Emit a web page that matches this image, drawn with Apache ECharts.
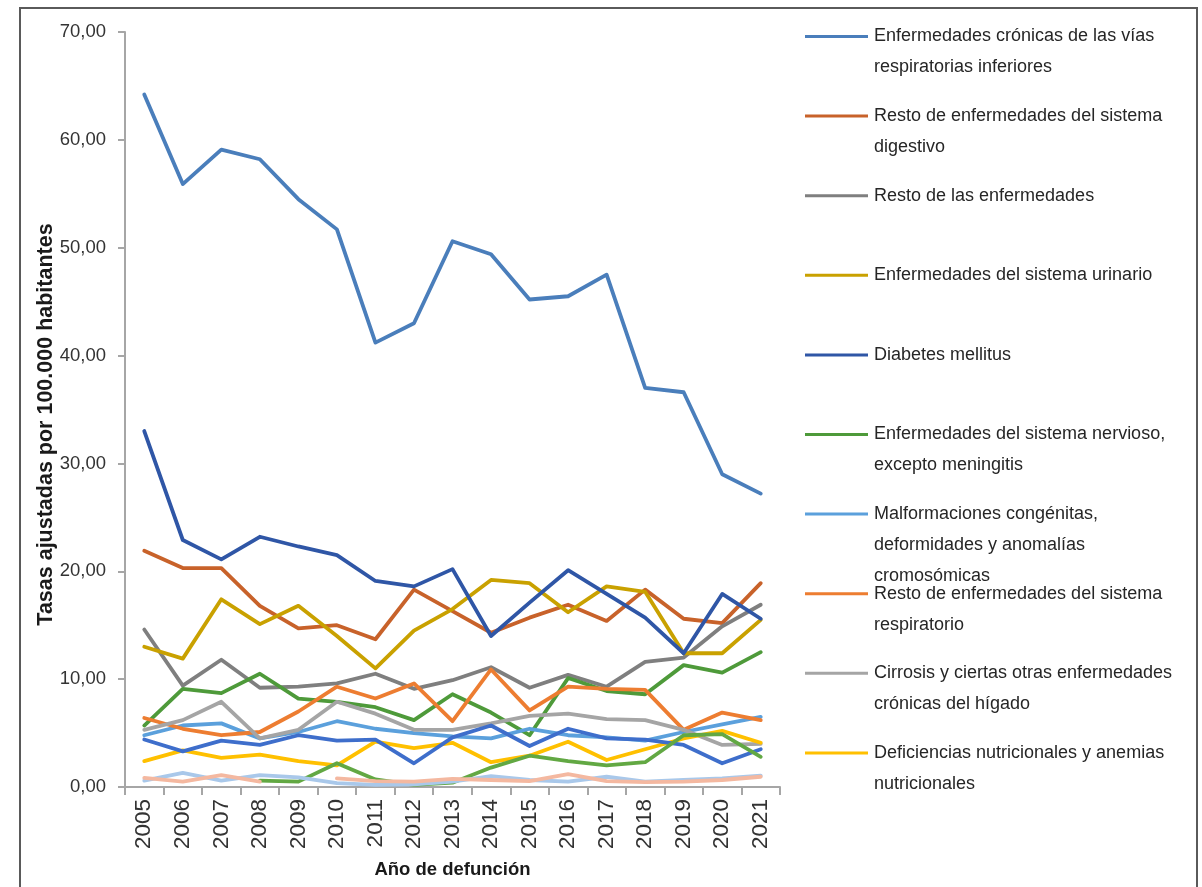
<!DOCTYPE html>
<html>
<head>
<meta charset="utf-8">
<script src="https://cdn.jsdelivr.net/npm/echarts@6/dist/echarts.min.js"></script>
<style>
html,body{margin:0;padding:0;background:#fff;}
#chart{width:1202px;height:887px;}
</style>
</head>
<body>
<div id="chart"></div>
<script>
// ---------- DATA ----------
const years = ['2005','2006','2007','2008','2009','2010','2011','2012','2013','2014','2015','2016','2017','2018','2019','2020','2021'];
const yTicks = [0, 10, 20, 30, 40, 50, 60, 70];

const seriesNames = [
  'Enfermedades crónicas de las vías\nrespiratorias inferiores',
  'Resto de enfermedades del sistema\ndigestivo',
  'Resto de las enfermedades',
  'Enfermedades del sistema urinario',
  'Diabetes mellitus',
  'Enfermedades del sistema nervioso,\nexcepto meningitis',
  'Malformaciones congénitas,\ndeformidades y anomalías\ncromosómicas',
  'Resto de enfermedades del sistema\nrespiratorio',
  'Cirrosis y ciertas otras enfermedades\ncrónicas del hígado',
  'Deficiencias nutricionales y anemias\nnutricionales',
  'Serie 11',
  'Serie 12',
  'Serie 13',
  'Serie 14'
];

const cronicasRespiratorias = [64.2, 55.9, 59.1, 58.2, 54.5, 51.7, 41.2, 43.0, 50.6, 49.4, 45.2, 45.5, 47.5, 37.0, 36.6, 29.0, 27.2];
const digestivo            = [21.9, 20.3, 20.3, 16.8, 14.7, 15.0, 13.7, 18.3, 16.3, 14.3, 15.7, 16.9, 15.4, 18.3, 15.6, 15.2, 18.9];
const restoEnfermedades    = [14.6, 9.4, 11.8, 9.2, 9.3, 9.6, 10.5, 9.1, 9.9, 11.1, 9.2, 10.4, 9.3, 11.6, 12.0, 14.9, 16.9];
const urinario             = [13.0, 11.9, 17.4, 15.1, 16.8, 14.0, 11.0, 14.5, 16.5, 19.2, 18.9, 16.2, 18.6, 18.1, 12.4, 12.4, 15.5];
const diabetes             = [33.0, 22.9, 21.1, 23.2, 22.3, 21.5, 19.1, 18.6, 20.2, 14.0, 17.1, 20.1, 17.9, 15.7, 12.4, 17.9, 15.6];
const nervioso             = [5.7, 9.1, 8.7, 10.5, 8.2, 7.9, 7.4, 6.2, 8.6, 6.9, 4.8, 10.1, 8.9, 8.6, 11.3, 10.6, 12.5];
const malformaciones       = [4.8, 5.7, 5.9, 4.5, 5.1, 6.1, 5.4, 5.0, 4.7, 4.5, 5.4, 4.8, 4.6, 4.3, 5.1, 5.8, 6.5];
const restoRespiratorio    = [6.4, 5.4, 4.8, 5.1, 7.0, 9.3, 8.2, 9.6, 6.1, 10.9, 7.1, 9.3, 9.1, 9.0, 5.3, 6.9, 6.2];
const cirrosis             = [5.3, 6.2, 7.9, 4.5, 5.3, 7.9, 6.8, 5.3, 5.3, 5.9, 6.6, 6.8, 6.3, 6.2, 5.3, 3.9, 4.0];
const deficiencias         = [2.4, 3.4, 2.7, 3.0, 2.4, 2.0, 4.2, 3.6, 4.1, 2.3, 2.9, 4.2, 2.5, 3.5, 4.5, 5.2, 4.1];
const serie11              = [4.4, 3.3, 4.3, 3.9, 4.8, 4.3, 4.4, 2.2, 4.6, 5.7, 3.8, 5.4, 4.5, 4.4, 3.9, 2.2, 3.5];
const serie12              = [null, null, null, 0.6, 0.5, 2.2, 0.7, 0.2, 0.4, 1.8, 2.9, 2.4, 2.0, 2.3, 4.8, 4.9, 2.8];
const serie13              = [0.6, 1.3, 0.6, 1.1, 0.9, 0.35, 0.2, 0.25, 0.5, 1.0, 0.65, 0.5, 0.95, 0.5, 0.65, 0.8, 1.05];
const serie14              = [0.85, 0.5, 1.1, 0.5, null, 0.8, 0.55, 0.5, 0.75, 0.65, 0.55, 1.2, 0.55, 0.45, 0.5, 0.65, 0.95];

const seriesValues = [cronicasRespiratorias, digestivo, restoEnfermedades, urinario, diabetes, nervioso,
  malformaciones, restoRespiratorio, cirrosis, deficiencias, serie11, serie12, serie13, serie14];

// ---------- STYLE ----------
const colors = ['#4A7EBB', '#C8622A', '#7F7F7F', '#C9A100', '#2F56A6', '#4E9A3A',
  '#5BA0DC', '#ED7D31', '#A5A5A5', '#FFC000', '#3E6ECB', '#62A843', '#A9C8EA', '#F4B8A0'];
const font = "'Liberation Sans', Arial, sans-serif";
const legendCount = 10;
const legendTop0 = 36.5, legendStep = 79.6, LH = 31;

const chart = echarts.init(document.getElementById('chart'), null, {renderer: 'canvas'});

const legends = [];
for (let i = 0; i < legendCount; i++) {
  const n = seriesNames[i].split('\n').length;
  const H = (2 * n - 1) * LH;
  legends.push({
    show: true,
    orient: 'vertical',
    left: 805,
    top: legendTop0 + i * legendStep - H / 2,
    padding: 0,
    itemWidth: 63,
    itemHeight: 3,
    itemGap: 0,
    icon: 'rect',
    data: [seriesNames[i]],
    formatter: function (name) { return '\n'.repeat(n - 1) + name; },
    textStyle: {fontFamily: font, fontSize: 18, lineHeight: LH, color: '#262626', padding: [0, 0, 0, 1]}
  });
}

const series = seriesValues.map((vals, i) => ({
  name: seriesNames[i],
  type: 'line',
  data: vals,
  showSymbol: false,
  symbol: 'none',
  connectNulls: false,
  smooth: false,
  lineStyle: {width: 3.8, color: colors[i], join: 'round', cap: 'round'},
  itemStyle: {color: colors[i]},
  emphasis: {disabled: true},
  z: 2
}));

chart.setOption({
  animation: false,
  backgroundColor: '#fff',
  graphic: [{
    type: 'rect',
    shape: {x: 20, y: 8, width: 1177, height: 890},
    style: {fill: 'none', stroke: '#5a5a5a', lineWidth: 2},
    silent: true
  }],
  legend: legends,
  grid: {left: 125, top: 32, width: 655, height: 755, containLabel: false},
  xAxis: {
    type: 'category',
    data: years,
    boundaryGap: true,
    name: 'Año de defunción',
    nameLocation: 'middle',
    nameGap: 73,
    nameMoveOverlap: false,
    nameTextStyle: {fontFamily: font, fontSize: 18.5, fontWeight: 'bold', color: '#1a1a1a'},
    axisLine: {show: true, lineStyle: {color: '#A6A6A6', width: 2}},
    axisTick: {show: true, alignWithLabel: false, inside: false, length: 8, lineStyle: {color: '#A6A6A6', width: 2}},
    axisLabel: {rotate: 90, margin: 12, fontFamily: font, fontSize: 22.5, color: '#333', interval: 0},
    splitLine: {show: false}
  },
  yAxis: {
    type: 'value',
    min: yTicks[0],
    max: yTicks[yTicks.length - 1],
    interval: yTicks[1] - yTicks[0],
    name: 'Tasas ajustadas por 100.000 habitantes',
    nameLocation: 'middle',
    nameGap: 68,
    nameMoveOverlap: false,
    nameRotate: 90,
    nameTextStyle: {fontFamily: font, fontSize: 21.5, fontWeight: 'bold', color: '#1a1a1a', padding: [0, 30, 0, 0]},
    axisLine: {show: true, lineStyle: {color: '#A6A6A6', width: 2}},
    axisTick: {show: true, inside: false, length: 7, lineStyle: {color: '#A6A6A6', width: 2}},
    axisLabel: {margin: 19, fontFamily: font, fontSize: 18.5, color: '#333',
      formatter: v => v.toFixed(2).replace('.', ',')},
    splitLine: {show: false}
  },
  series: series
});
</script>
</body>
</html>
